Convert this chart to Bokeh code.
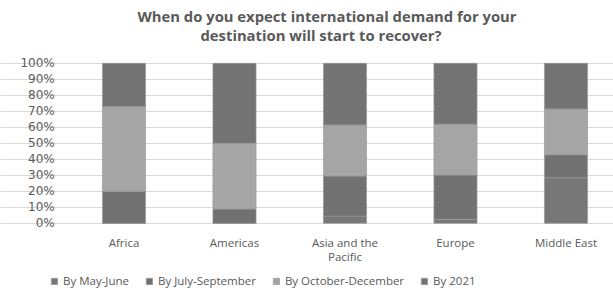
from bokeh.plotting import figure
from bokeh.models import Range1d, FixedTicker, Title, Legend, LegendItem
from bokeh.embed import file_html
from bokeh.resources import INLINE

title_lines = ["When do you expect international demand for your",
               "destination will start to recover?"]
categories = ["Africa", "Americas", "Asia and the\nPacific", "Europe", "Middle East"]
series_names = ["By May-June", "By July-September", "By October-December", "By 2021"]
may_june = [0.0, 0.0, 4.5, 2.5, 28.5]
july_sep = [20.0, 9.0, 25.0, 27.7, 14.4]
oct_dec = [53.0, 41.0, 32.0, 31.7, 28.6]
by_2021 = [27.0, 50.0, 38.5, 38.1, 28.5]
y_ticks = [0, 10, 20, 30, 40, 50, 60, 70, 80, 90, 100]
colors = ["#777777", "#717171", "#a5a5a5", "#737373"]

FONT = "Open Sans"
TXT = "#595959"

# The frame covers the whole width and reaches the bottom edge; the axes are fixed
# inside it so that the legend can sit below the category labels.
p = figure(frame_width=613, frame_height=232, output_backend="svg", toolbar_location=None,
           x_range=Range1d(-1.1175, 4.43), y_range=Range1d(-40.75, 104.25),
           min_border_left=0, min_border_right=0, min_border_top=56, min_border_bottom=0)
p.outline_line_color = None
p.background_fill_color = "white"
p.border_fill_color = "white"

xs = list(range(len(categories)))
series = [may_june, july_sep, oct_dec, by_2021]
bottom = [0.0] * len(xs)
renderers = []
for name, vals, col in zip(series_names, series, colors):
    top = [b + v for b, v in zip(bottom, vals)]
    r = p.vbar(x=xs, bottom=bottom, top=top, width=0.39, fill_color=col,
               line_color="#9a9a9a", line_width=0.7)
    renderers.append(r)
    bottom = top

# axes
p.xaxis.ticker = FixedTicker(ticks=xs)
p.xaxis.major_label_overrides = {i: c for i, c in enumerate(categories)}
p.xaxis.fixed_location = 0
p.yaxis.ticker = FixedTicker(ticks=y_ticks)
p.yaxis.major_label_overrides = {t: f"{t}%" for t in y_ticks}
p.yaxis.fixed_location = -0.5
for ax in (p.xaxis[0], p.yaxis[0]):
    ax.axis_line_color = None
    ax.major_tick_line_color = None
    ax.minor_tick_line_color = None
    ax.major_label_text_color = TXT
p.xaxis.major_label_text_font = FONT
p.xaxis.major_label_text_font_size = "11.5px"
p.xaxis.major_label_text_line_height = 0.9
p.yaxis.major_label_text_font = "DejaVu Sans"
p.yaxis.major_label_text_font_size = "12px"
p.yaxis.major_label_standoff = 8
p.xaxis.major_label_standoff = 6
p.xgrid.grid_line_color = None
p.ygrid.grid_line_color = "#d9d9d9"
p.ygrid.grid_line_width = 1
p.ygrid.bounds = (-0.5, 4.43)

# legend at the bottom of the frame
items = [LegendItem(label=n, renderers=[r]) for n, r in zip(series_names, renderers)]
legend = Legend(items=items, orientation="horizontal", location=(50, 0),
                label_text_font=FONT, label_text_font_size="11.5px", label_text_color=TXT,
                glyph_width=8, glyph_height=8, label_standoff=5, spacing=16,
                padding=0, margin=0, border_line_color=None, background_fill_alpha=0,
                label_height=12)
p.add_layout(legend, "center")

# spacer between the frame and the title lines
spacer = Title(text=" ", text_font_size="1px", standoff=9)
p.add_layout(spacer, "above")

# title (two lines)
t2 = Title(text=title_lines[1], align="left", offset=200,
           text_font=FONT, text_font_size="14.8px", text_font_style="bold", text_color=TXT,
           standoff=0, text_line_height=0.72)
t1 = Title(text=title_lines[0], align="left", offset=137,
           text_font=FONT, text_font_size="14.8px", text_font_style="bold", text_color=TXT,
           standoff=-6, text_line_height=0.72)
p.add_layout(t2, "above")
p.add_layout(t1, "above")

open("out.html", "w").write(file_html(p, INLINE))
